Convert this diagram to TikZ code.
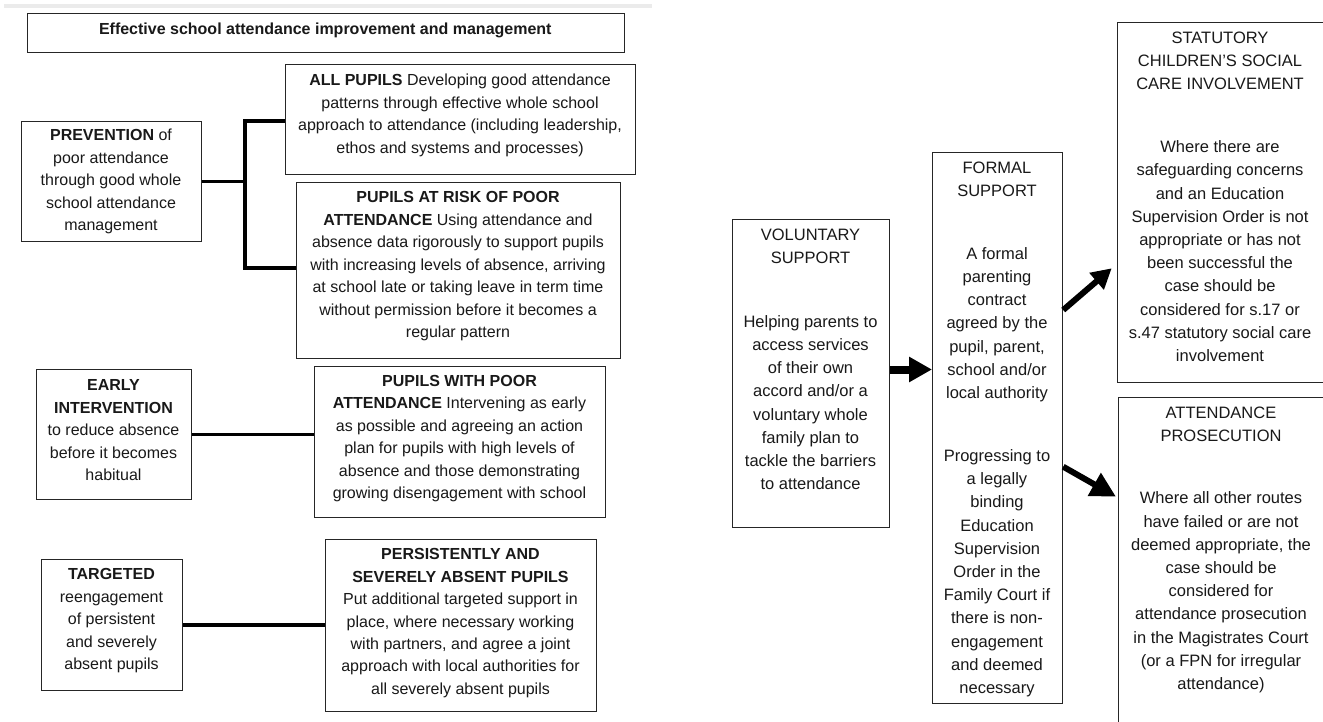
\documentclass[tikz,border=0pt]{standalone}
\usepackage{fontspec}
\setmainfont{Liberation Sans}
\usetikzlibrary{arrows.meta}
\newcommand\lfs{\fontsize{16}{22.45}\selectfont}
\newcommand\rfs{\fontsize{16.5}{23.2}\selectfont}
\newcommand\tfs{\fontsize{16}{20}\selectfont\bfseries}
\begin{document}
\begin{tikzpicture}[x=1pt,y=-1pt,
  box/.style={draw=black!85, line width=1.2pt, anchor=north west, inner sep=0pt},
  ltxt/.style={align=center, anchor=north, inner sep=0pt, font=\lfs, text=black!90},
  rtxt/.style={align=center, anchor=north, inner sep=0pt, font=\rfs, text=black!90},
  conn/.style={line width=3.4pt, black},
  bigarrow/.style={line width=8pt, black, -{Triangle[length=23pt,width=24pt]}},
  upa/.style={line width=6pt, black, -{Triangle[length=20pt,width=21pt]}},
  downa/.style={line width=6pt, black, -{Triangle[length=25pt,width=25pt]}}]
\useasboundingbox (0,0) rectangle (1323,722);
\fill[white] (0,0) rectangle (1323,722);
\clip (0,0) rectangle (1323,722);
\fill[black!8] (4,4) rectangle (652,8);

% title
\node[box, minimum width=597.5pt, minimum height=39pt] (title) at (26.5,12.7) {};
\node[anchor=base, inner sep=0pt, font=\tfs, text=black!90] (titlet) at (325.3,35) {Effective school attendance improvement and management};

% left boxes
\node[box, minimum width=180pt, minimum height=120pt] (prev) at (21,121) {};
\node[box, minimum width=350pt, minimum height=110pt] (all) at (285,64) {};
\node[box, minimum width=324pt, minimum height=176pt] (risk) at (296,182) {};
\node[box, minimum width=155pt, minimum height=130pt] (early) at (36,369) {};
\node[box, minimum width=291pt, minimum height=151pt] (poor) at (314,366) {};
\node[box, minimum width=141pt, minimum height=131pt] (targ) at (41,559) {};
\node[box, minimum width=271pt, minimum height=172pt] (pers) at (325,539) {};

\node[ltxt] (prevt) at (111,124.75) {\strut\textbf{PREVENTION} of\\poor attendance\\through good whole\\school attendance\\management};
\node[ltxt] (allt) at (460,69.75) {\strut\textbf{ALL PUPILS} Developing good attendance\\patterns through effective whole school\\approach to attendance (including leadership,\\ethos and systems and processes)};
\node[ltxt] (riskt) at (458,187) {\strut\textbf{PUPILS AT RISK OF POOR}\\\textbf{ATTENDANCE} Using attendance and\\absence data rigorously to support pupils\\with increasing levels of absence, arriving\\at school late or taking leave in term time\\without permission before it becomes a\\regular pattern};
\node[ltxt] (earlyt) at (113.5,374.75) {\strut\textbf{EARLY}\\\textbf{INTERVENTION}\\to reduce absence\\before it becomes\\habitual};
\node[ltxt] (poort) at (459.5,370.5) {\strut\textbf{PUPILS WITH POOR}\\\textbf{ATTENDANCE} Intervening as early\\as possible and agreeing an action\\plan for pupils with high levels of\\absence and those demonstrating\\growing disengagement with school};
\node[ltxt] (targt) at (111.5,563.75) {\strut\textbf{TARGETED}\\reengagement\\of persistent\\and severely\\absent pupils};
\node[ltxt] (perst) at (460.5,543.75) {\strut\textbf{PERSISTENTLY AND}\\\textbf{SEVERELY ABSENT PUPILS}\\Put additional targeted support in\\place, where necessary working\\with partners, and agree a joint\\approach with local authorities for\\all severely absent pupils};

% left connectors
\coordinate (j1) at (245,121);
\coordinate (j2) at (245,268);
\draw[conn] (all.west |- j1) -- (j1) -- (j2) -- (risk.west |- j2);
\draw[conn] (prev.east) -- (prev.east -| j1);
\draw[conn] (early.east) -- (early.east -| poor.west);
\draw[conn] (targ.east) -- (targ.east -| pers.west);

% right boxes
\node[box, minimum width=157pt, minimum height=308pt] (vol) at (732,219) {};
\node[box, minimum width=130pt, minimum height=551pt] (formal) at (932,152) {};
\node[box, minimum width=213pt, minimum height=360pt] (stat) at (1117,22) {};
\node[box, minimum width=212pt, minimum height=343pt] (att) at (1118,397) {};

\node[rtxt] (volt) at (810.5,224.3) {\strut VOLUNTARY\\SUPPORT\\[40.2pt]Helping parents to\\access services\\of their own\\accord and/or a\\voluntary whole\\family plan to\\tackle the barriers\\to attendance};
\node[rtxt] (formalt) at (997,156.6) {\strut FORMAL\\SUPPORT\\[39.8pt]A formal\\parenting\\contract\\agreed by the\\pupil, parent,\\school and/or\\local authority\\[39.8pt]Progressing to\\a legally\\binding\\Education\\Supervision\\Order in the\\Family Court if\\there is non-\\engagement\\and deemed\\necessary};
\node[rtxt] (statt) at (1220,26.8) {\strut STATUTORY\\CHILDREN'S SOCIAL\\CARE INVOLVEMENT\\[39.8pt]Where there are\\safeguarding concerns\\and an Education\\Supervision Order is not\\appropriate or has not\\been successful the\\case should be\\considered for s.17 or\\s.47 statutory social care\\involvement};
\node[rtxt] (attt) at (1221,402) {\strut ATTENDANCE\\PROSECUTION\\[39.1pt]Where all other routes\\have failed or are not\\deemed appropriate, the\\case should be\\considered for\\attendance prosecution\\in the Magistrates Court\\(or a FPN for irregular\\attendance)};

% right arrows
\coordinate (a1) at (0,369.5);
\coordinate (s1) at (0,310);
\coordinate (s2) at (0,466.7);
\coordinate (t1) at (1111.7,268.3);
\coordinate (t2) at (1116,496.7);
\draw[bigarrow] (vol.east |- a1) -- (formal.west |- a1);
\draw[upa] (formal.east |- s1) -- (t1);
\draw[downa] (formal.east |- s2) -- (t2);
\end{tikzpicture}
\end{document}
